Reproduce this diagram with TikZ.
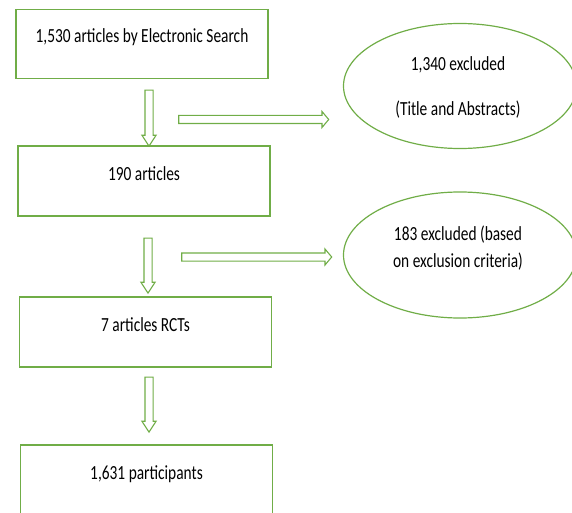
\documentclass[tikz,border=0pt]{standalone}
\usepackage{fontspec}
\setmainfont{Carlito}
\usepackage{graphicx}
\usetikzlibrary{shapes.geometric,shapes.arrows}
\definecolor{boxgreen}{RGB}{112,173,71}
\newcommand{\tall}[1]{\scalebox{1}[1.3]{#1}}

\begin{document}
\begin{tikzpicture}[x=1pt,y=-1pt,
  flowbox/.style={draw=boxgreen, line width=1.5pt, minimum width=252pt, minimum height=69pt,
    inner sep=0pt, text height=13pt, text depth=15pt, font=\fontsize{15.4}{18}\selectfont},
  exclbox/.style={ellipse, draw=boxgreen, line width=1.2pt, minimum width=233pt,
    minimum height=125pt, inner sep=0pt},
  excltext/.style={align=center, inner sep=0pt, font=\fontsize{15.4}{27}\selectfont},
  downarrow/.style={single arrow, draw=boxgreen, line width=1.1pt, inner sep=3.5pt,
    minimum width=13pt, minimum height=55pt, single arrow head extend=3pt,
    single arrow tip angle=66, rotate=-90},
  rightarrow/.style={single arrow, draw=boxgreen, line width=1.1pt, inner sep=3.5pt,
    minimum width=15pt, minimum height=150pt, single arrow head extend=4pt,
    single arrow tip angle=100}]
\useasboundingbox (0,0) rectangle (572,513);

% boxes
\node[flowbox] (search) at (142,44) {\tall{1,530 articles by Electronic Search}};
\node[flowbox, minimum height=70pt] (screened) at (144,181) {\tall{190 articles}};
\node[flowbox, minimum height=70pt] (rcts) at (145.5,332) {\tall{7 articles RCTs}};
\node[flowbox, minimum height=70pt] (participants) at (146.5,480) {\tall{1,631 participants}};

% excluded
\node[exclbox] (exclTitle) at (460,86) {};
\node[excltext] (exclTitleTxt) at (458,87.5) {\tall{1,340 excluded}\\[18pt]\tall{(Title and Abstracts)}};
\node[exclbox, minimum height=126pt] (exclCriteria) at (460,255) {};
\node[excltext] (exclCriteriaTxt) at (458,248.5) {\tall{183 excluded (based}\\\tall{on exclusion criteria)}};

% arrows
\node[downarrow, minimum height=56pt] (arrSearch) at (149,115) {};
\node[rightarrow] (arrTitle) at (252,119.5) {};
\node[downarrow] (arrScreened) at (148,262.5) {};
\node[rightarrow] (arrCriteria) at (255,257) {};
\node[downarrow] (arrRcts) at (149,401.5) {};
\end{tikzpicture}
\end{document}
